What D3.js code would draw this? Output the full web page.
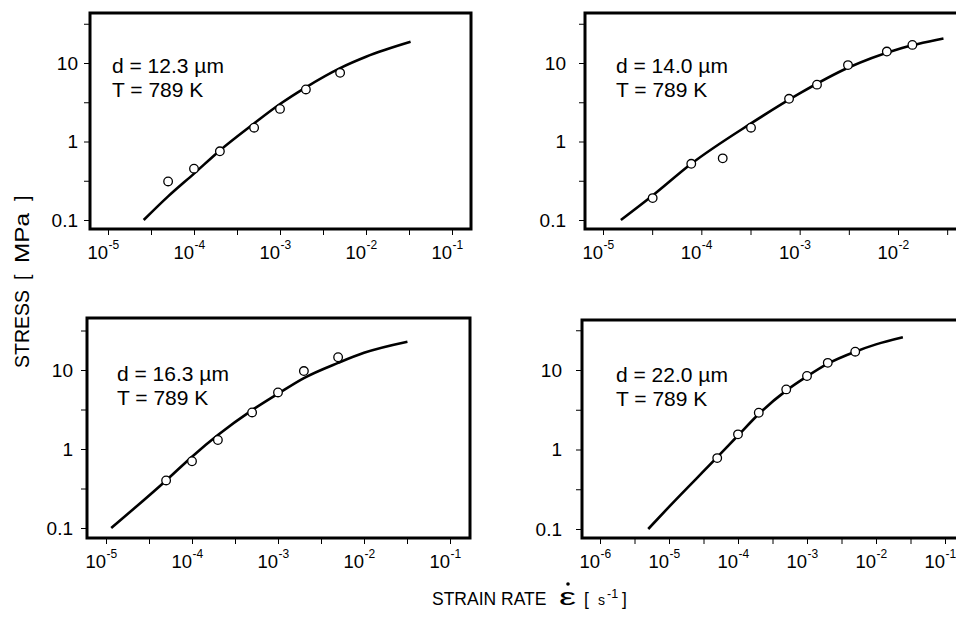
<!DOCTYPE html>
<html>
<head>
<meta charset="utf-8">
<script src="https://cdn.jsdelivr.net/npm/d3@7"></script>
<style>
  html, body { margin: 0; padding: 0; background: #fff; }
  svg { display: block; font-family: "Liberation Sans", Arial, sans-serif; }
</style>
</head>
<body>
<svg id="chart" width="956" height="620"></svg>
<script>
// grain sizes (µm) and test temperature (K)
const grainSize = ["12.3", "14.0", "16.3", "22.0"];
const temperature = "789";

// measured points: strain rate [1/s] vs stress [MPa]
const rateSet = [5e-5, 1e-4, 2e-4, 5e-4, 1e-3, 2e-3, 5e-3];
const stress12 = [0.31, 0.45, 0.75, 1.5, 2.6, 4.6, 7.5];
const rate14 = [3.2e-5, 7.9e-5, 1.65e-4, 3.2e-4, 7.8e-4, 1.5e-3, 3.1e-3, 7.7e-3, 1.4e-2];
const stress14 = [0.19, 0.52, 0.61, 1.5, 3.5, 5.3, 9.4, 14, 17];
const stress16 = [0.40, 0.70, 1.3, 2.9, 5.2, 9.7, 14.5];
const stress22 = [0.78, 1.55, 2.9, 5.7, 8.4, 12.3, 17];

// model curves
const fitRate12 = [2.6e-5, 5e-5, 1e-4, 2e-4, 5e-4, 1e-3, 2e-3, 5e-3, 1e-2, 3.3e-2];
const fitStress12 = [0.1, 0.2, 0.39, 0.77, 1.7, 3.0, 4.9, 8.6, 12, 18.6];
const fitRate14 = [1.52e-5, 3.2e-5, 7.9e-5, 3.2e-4, 1e-3, 3.1e-3, 1e-2, 2.9e-2];
const fitStress14 = [0.1, 0.205, 0.52, 1.7, 4.1, 8.7, 15, 20.5];
const fitRate16 = [1.15e-5, 5e-5, 1e-4, 2e-4, 5e-4, 1e-3, 2e-3, 5e-3, 1e-2, 3.2e-2];
const fitStress16 = [0.1, 0.4, 0.8, 1.5, 3.1, 5.0, 7.9, 12.3, 16.5, 22.8];
const fitRate22 = [5e-6, 1e-5, 5e-5, 1e-4, 2e-4, 5e-4, 1e-3, 2e-3, 5e-3, 1e-2, 2.45e-2];
const fitStress22 = [0.1, 0.19, 0.8, 1.5, 2.8, 5.5, 8.3, 12, 17, 21, 25.8];

// y ticks (half decades), labelled ones
const yTicks = [0.1, Math.pow(10, -0.5), 1, Math.pow(10, 0.5), 10, Math.pow(10, 1.5)];
const yLabels = [[0.1, "0.1"], [1, "1"], [10, "10"]];

// layout of the four panels
const panels = [
  { d: grainSize[0], rate: rateSet, stress: stress12, fitRate: fitRate12, fitStress: fitStress12,
    frame: [90, 13, 471, 229], dec: [-5, -1], xPx: [108, 452], yPx: [220, 63], labelX: 78, text: [112, 73] },
  { d: grainSize[1], rate: rate14, stress: stress14, fitRate: fitRate14, fitStress: fitStress14,
    frame: [585, 13, 962, 229], dec: [-5, -2], xPx: [603, 898], yPx: [220, 63], labelX: 566, text: [616, 73] },
  { d: grainSize[2], rate: rateSet, stress: stress16, fitRate: fitRate16, fitStress: fitStress16,
    frame: [87, 318, 470, 538], dec: [-5, -1], xPx: [106, 450], yPx: [528, 370], labelX: 73, text: [117, 381] },
  { d: grainSize[3], rate: rateSet, stress: stress22, fitRate: fitRate22, fitStress: fitStress22,
    frame: [582, 320, 962, 538], dec: [-6, -1], xPx: [600, 945], yPx: [529, 370], labelX: 562, text: [616, 382] }
];

const svg = d3.select('#chart');

panels.forEach(function(p) {
  const [x0, y0, x1, y1] = p.frame;
  const x = d3.scaleLog().domain([Math.pow(10, p.dec[0]), Math.pow(10, p.dec[1])]).range(p.xPx);
  const y = d3.scaleLog().domain([0.1, 10]).range(p.yPx);
  const g = svg.append('g');

  // half-decade ticks that fall inside the frame
  const lo = Math.ceil(Math.log10(x.invert(x0)) * 2) / 2;
  const hi = Math.floor(Math.log10(x.invert(x1)) * 2) / 2;
  const xTicks = d3.range(lo, hi + 0.01, 0.5).map(e => Math.pow(10, e));

  const xAxis = g.append('g')
    .attr('transform', `translate(0,${y1})`)
    .call(d3.axisBottom(x).tickValues(xTicks).tickSize(6).tickFormat(''));
  xAxis.select('.domain').remove();
  xAxis.selectAll('line').attr('stroke', '#000').attr('stroke-width', 1);

  const yAxis = g.append('g')
    .attr('transform', `translate(${x0},0)`)
    .call(d3.axisLeft(y).tickValues(yTicks).tickSize(6).tickFormat(''));
  yAxis.select('.domain').remove();
  yAxis.selectAll('line').attr('stroke', '#000').attr('stroke-width', 1);

  // decade labels 10^n
  const decades = xTicks.map(t => Math.round(Math.log10(t) * 2) / 2).filter(e => Number.isInteger(e));
  decades.forEach(function(e) {
    const tx = x(Math.pow(10, e));
    g.append('text')
      .attr('x', tx).attr('y', y1 + 30)
      .attr('text-anchor', 'end')
      .attr('font-size', 18.5)
      .text('10');
    g.append('text')
      .attr('x', tx + 0.5).attr('y', y1 + 20)
      .attr('font-size', 12)
      .text('-' + Math.abs(e));
  });

  yLabels.forEach(function(l) {
    g.append('text')
      .attr('x', p.labelX).attr('y', y(l[0]))
      .attr('dy', '0.35em')
      .attr('text-anchor', 'end')
      .attr('font-size', 19)
      .text(l[1]);
  });

  // model curve
  const line = d3.line()
    .x(d => x(d[0]))
    .y(d => y(d[1]))
    .curve(d3.curveMonotoneX);
  g.append('path')
    .datum(p.fitRate.map((r, i) => [r, p.fitStress[i]]))
    .attr('d', line)
    .attr('fill', 'none')
    .attr('stroke', '#000')
    .attr('stroke-width', 2.6);

  // data points
  g.selectAll('circle.pt')
    .data(p.rate.map((r, i) => [r, p.stress[i]]))
    .enter().append('circle')
    .attr('class', 'pt')
    .attr('cx', d => x(d[0]))
    .attr('cy', d => y(d[1]))
    .attr('r', 4.3)
    .attr('fill', '#fff')
    .attr('stroke', '#000')
    .attr('stroke-width', 1.3);

  // frame
  g.append('rect')
    .attr('x', x0).attr('y', y0)
    .attr('width', x1 - x0).attr('height', y1 - y0)
    .attr('fill', 'none')
    .attr('stroke', '#000')
    .attr('stroke-width', 3);

  // annotation
  g.append('text')
    .attr('x', p.text[0]).attr('y', p.text[1])
    .attr('font-size', 21)
    .text('d = ' + p.d + ' \u00b5m');
  g.append('text')
    .attr('x', p.text[0]).attr('y', p.text[1] + 24)
    .attr('font-size', 21)
    .text('T = ' + temperature + ' K');
});

// y axis title
const yTitle = svg.append('g').attr('transform', 'translate(29,368) rotate(-90)');
yTitle.append('text').attr('x', 0).attr('y', 0).attr('font-size', 19.5).text('STRESS');
yTitle.append('text').attr('x', 88).attr('y', 0).attr('font-size', 19.5).text('[');
yTitle.append('text').attr('x', 105).attr('y', 0).attr('font-size', 19.5)
  .attr('textLength', 50).attr('lengthAdjust', 'spacingAndGlyphs').text('MPa');
yTitle.append('text').attr('x', 167).attr('y', 0).attr('font-size', 19.5).text(']');

// x axis title
const xTitle = svg.append('g');
xTitle.append('text').attr('x', 432).attr('y', 605).attr('font-size', 17.5).text('STRAIN RATE');
xTitle.append('text').attr('x', 559).attr('y', 605).attr('font-size', 23)
  .attr('textLength', 17).attr('lengthAdjust', 'spacingAndGlyphs').text('\u03b5');
xTitle.append('circle').attr('cx', 568).attr('cy', 584).attr('r', 1.8).attr('fill', '#000');
xTitle.append('text').attr('x', 584).attr('y', 605).attr('font-size', 17.5).text('[');
xTitle.append('text').attr('x', 598).attr('y', 605).attr('font-size', 14).text('s');
xTitle.append('text').attr('x', 607).attr('y', 598).attr('font-size', 12.5).text('-1');
xTitle.append('text').attr('x', 622).attr('y', 605).attr('font-size', 17.5).text(']');
</script>
</body>
</html>
